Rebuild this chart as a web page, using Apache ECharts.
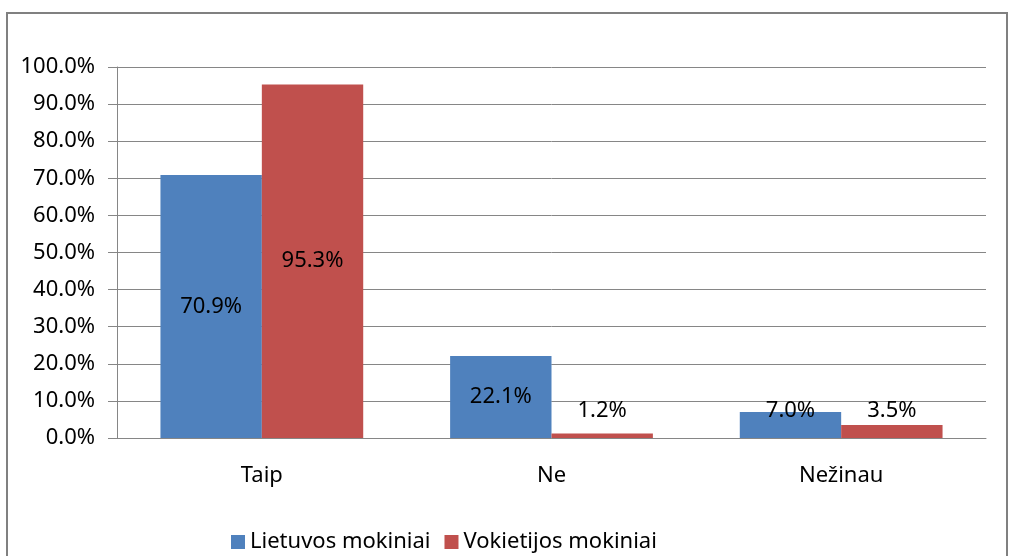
<!DOCTYPE html>
<html>
<head>
<meta charset="utf-8">
<script src="https://cdn.jsdelivr.net/npm/echarts@6/dist/echarts.min.js"></script>
<style>
  html, body { margin: 0; padding: 0; background: #fff; }
  #chart { width: 1009px; height: 556px; }
</style>
</head>
<body>
<div id="chart"></div>
<script>
const categories = ["Taip", "Ne", "Nežinau"];
const lietuvos = [70.9, 22.1, 7.0];
const vokietijos = [95.3, 1.2, 3.5];
const seriesNames = ["Lietuvos mokiniai", "Vokietijos mokiniai"];

const font = "Noto Sans";
const fontSize = 22;
const gridColor = "#868686";

// small bars get their label lifted above the bar, like the original
function withLabels(values) {
  return values.map((v) => {
    if (v < 10) {
      return {
        value: v,
        label: { position: "insideBottom", distance: 16 },
      };
    }
    return v;
  });
}

const chart = echarts.init(document.getElementById("chart"));
chart.setOption({
  animation: false,
  textStyle: { fontFamily: font },
  graphic: [
    {
      type: "rect",
      shape: { x: 7, y: 13, width: 1000, height: 600 },
      style: { fill: "none", stroke: "#808080", lineWidth: 2 },
      silent: true,
    },
  ],
  legend: {
    top: 526,
    left: 226,
    itemWidth: 14,
    itemHeight: 14,
    itemGap: 14,
    icon: "rect",
    textStyle: { fontSize: fontSize, color: "#000", fontFamily: font },
    data: seriesNames,
  },
  grid: {
    left: 117,
    right: 23,
    top: 67,
    bottom: 118,
  },
  xAxis: {
    type: "category",
    data: categories,
    axisLine: { lineStyle: { color: gridColor } },
    axisTick: { length: 8, lineStyle: { color: gridColor } },
    axisLabel: { fontSize: fontSize, color: "#000", margin: 27, fontFamily: font },
  },
  yAxis: {
    type: "value",
    min: 0,
    max: 100,
    interval: 10,
    axisLine: { show: true, lineStyle: { color: gridColor } },
    axisTick: { show: true, length: 9, lineStyle: { color: gridColor } },
    splitLine: { lineStyle: { color: gridColor } },
    axisLabel: {
      fontSize: fontSize,
      color: "#000",
      margin: 22,
      fontFamily: font,
      formatter: (v) => v.toFixed(1) + "%",
    },
  },
  series: [
    {
      name: seriesNames[0],
      type: "bar",
      data: withLabels(lietuvos),
      itemStyle: { color: "#4F81BD" },
      barGap: "0%",
      barCategoryGap: "30%",
      label: {
        show: true,
        position: "inside",
        color: "#000",
        fontSize: fontSize,
        fontFamily: font,
        formatter: (p) => p.value.toFixed(1) + "%",
      },
    },
    {
      name: seriesNames[1],
      type: "bar",
      data: withLabels(vokietijos),
      itemStyle: { color: "#C0504D" },
      barGap: "0%",
      barCategoryGap: "30%",
      label: {
        show: true,
        position: "inside",
        color: "#000",
        fontSize: fontSize,
        fontFamily: font,
        formatter: (p) => p.value.toFixed(1) + "%",
      },
    },
  ],
});
</script>
</body>
</html>
